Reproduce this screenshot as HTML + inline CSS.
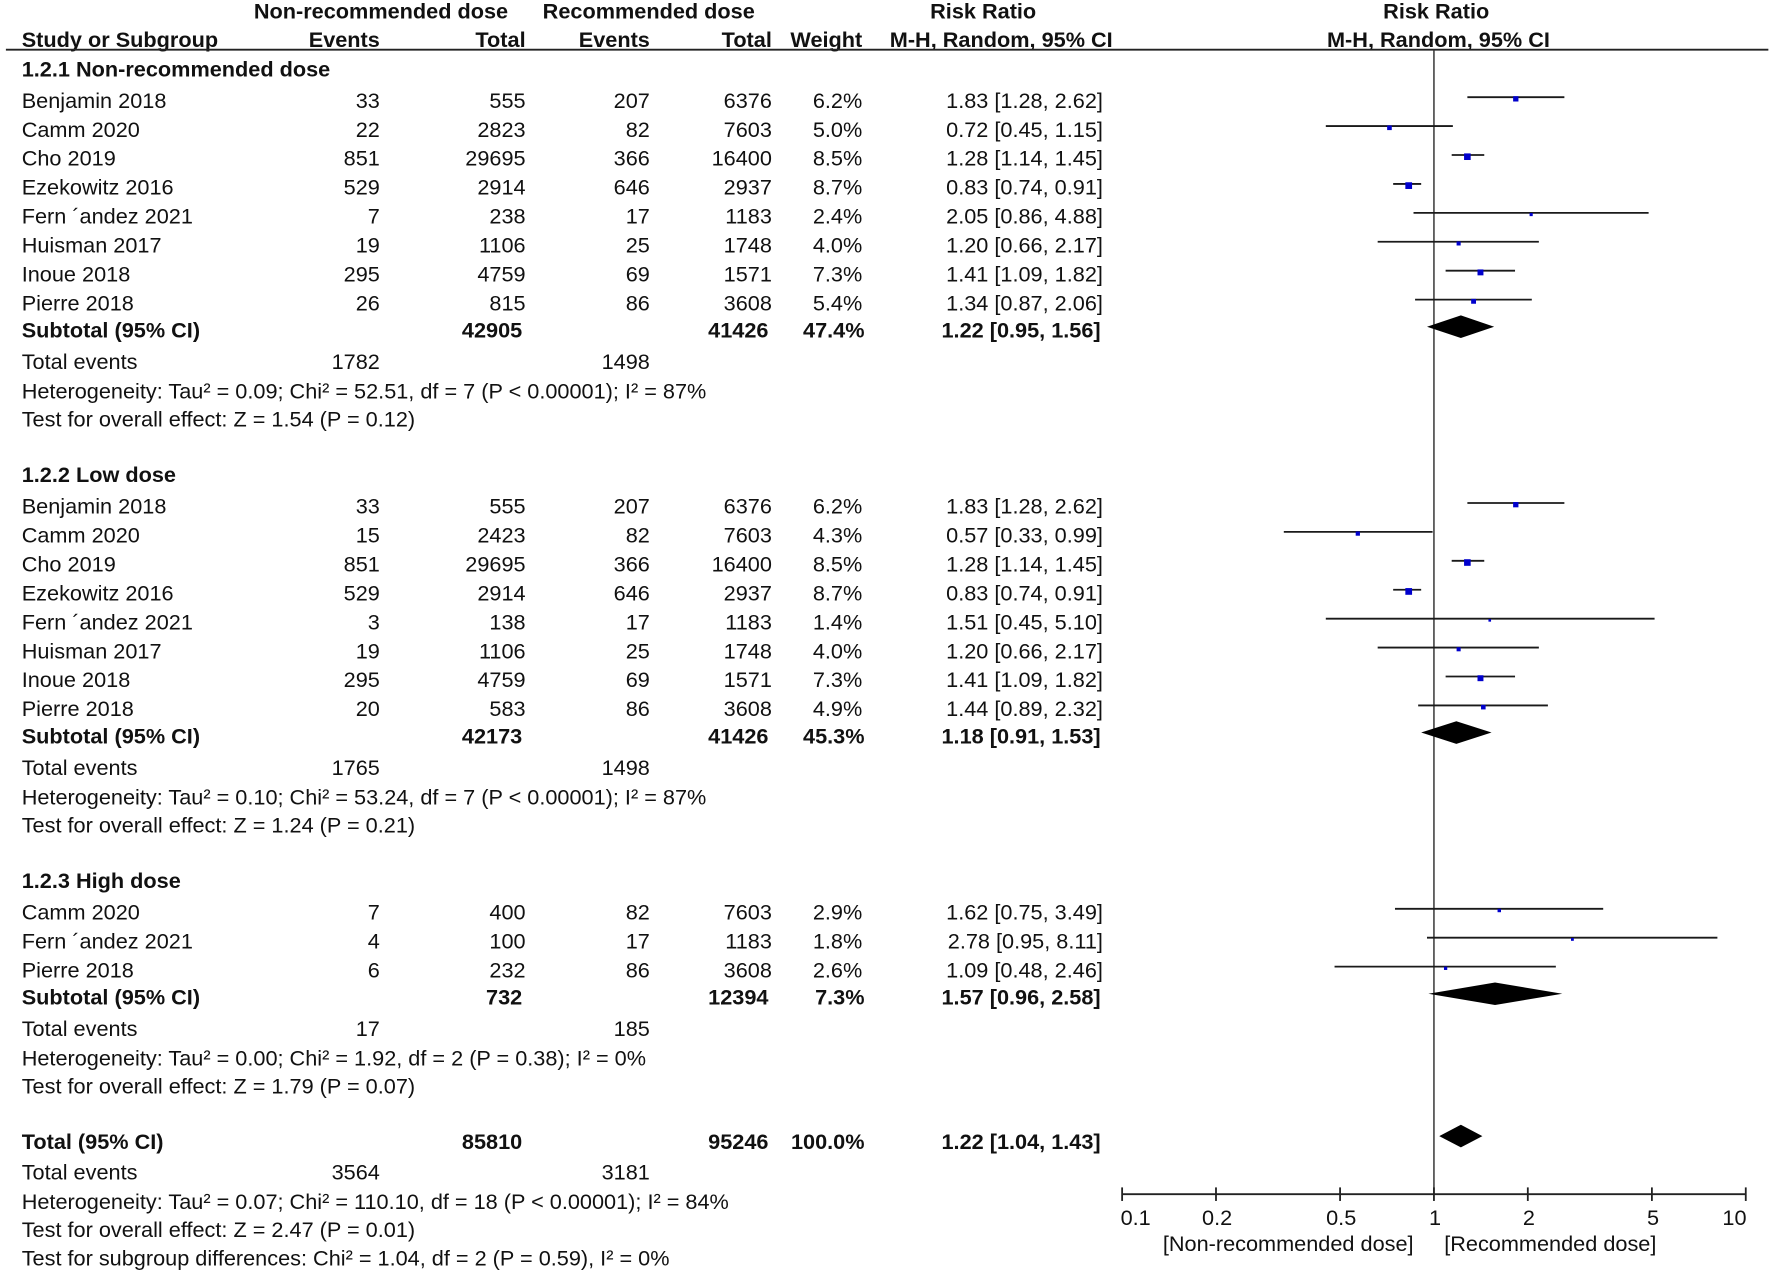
<!DOCTYPE html>
<html><head><meta charset="utf-8">
<style>
html,body{margin:0;padding:0;background:#fff;}
svg{display:block;}
text{font-family:"Liberation Sans",Arial,sans-serif;font-size:19.2px;fill:#111;}
.b{font-weight:bold;}
</style></head>
<body>
<svg id="chart" width="1772" height="1271" viewBox="0 0 1568 1125" xmlns="http://www.w3.org/2000/svg"></svg>
<script>
// ---- data ----
const groupTitles = ["1.2.1 Non-recommended dose","1.2.2 Low dose","1.2.3 High dose"];
const g1Names = ["Benjamin 2018","Camm 2020","Cho 2019","Ezekowitz 2016","Fern \u00b4andez 2021","Huisman 2017","Inoue 2018","Pierre 2018"];
const g1E1 = [33,22,851,529,7,19,295,26];
const g1T1 = [555,2823,29695,2914,238,1106,4759,815];
const g1E2 = [207,82,366,646,17,25,69,86];
const g1T2 = [6376,7603,16400,2937,1183,1748,1571,3608];
const g1W = [6.2,5.0,8.5,8.7,2.4,4.0,7.3,5.4];
const g1RR = [1.83,0.72,1.28,0.83,2.05,1.20,1.41,1.34];
const g1Lo = [1.28,0.45,1.14,0.74,0.86,0.66,1.09,0.87];
const g1Hi = [2.62,1.15,1.45,0.91,4.88,2.17,1.82,2.06];
const g2Names = ["Benjamin 2018","Camm 2020","Cho 2019","Ezekowitz 2016","Fern \u00b4andez 2021","Huisman 2017","Inoue 2018","Pierre 2018"];
const g2E1 = [33,15,851,529,3,19,295,20];
const g2T1 = [555,2423,29695,2914,138,1106,4759,583];
const g2E2 = [207,82,366,646,17,25,69,86];
const g2T2 = [6376,7603,16400,2937,1183,1748,1571,3608];
const g2W = [6.2,4.3,8.5,8.7,1.4,4.0,7.3,4.9];
const g2RR = [1.83,0.57,1.28,0.83,1.51,1.20,1.41,1.44];
const g2Lo = [1.28,0.33,1.14,0.74,0.45,0.66,1.09,0.89];
const g2Hi = [2.62,0.99,1.45,0.91,5.10,2.17,1.82,2.32];
const g3Names = ["Camm 2020","Fern \u00b4andez 2021","Pierre 2018"];
const g3E1 = [7,4,6];
const g3T1 = [400,100,232];
const g3E2 = [82,17,86];
const g3T2 = [7603,1183,3608];
const g3W = [2.9,1.8,2.6];
const g3RR = [1.62,2.78,1.09];
const g3Lo = [0.75,0.95,0.48];
const g3Hi = [3.49,8.11,2.46];
const subT1 = [42905,42173,732];
const subT2 = [41426,41426,12394];
const subW = ["47.4%","45.3%","7.3%"];
const subRR = [1.22,1.18,1.57];
const subLo = [0.95,0.91,0.96];
const subHi = [1.56,1.53,2.58];
const subEv1 = [1782,1765,17];
const subEv2 = [1498,1498,185];
const hetText = ["Heterogeneity: Tau\u00b2 = 0.09; Chi\u00b2 = 52.51, df = 7 (P < 0.00001); I\u00b2 = 87%",
 "Heterogeneity: Tau\u00b2 = 0.10; Chi\u00b2 = 53.24, df = 7 (P < 0.00001); I\u00b2 = 87%",
 "Heterogeneity: Tau\u00b2 = 0.00; Chi\u00b2 = 1.92, df = 2 (P = 0.38); I\u00b2 = 0%"];
const testText = ["Test for overall effect: Z = 1.54 (P = 0.12)","Test for overall effect: Z = 1.24 (P = 0.21)","Test for overall effect: Z = 1.79 (P = 0.07)"];
const totT1 = 85810, totT2 = 95246, totRR = 1.22, totLo = 1.04, totHi = 1.43;
const totEv1 = 3564, totEv2 = 3181;
const totHet = "Heterogeneity: Tau\u00b2 = 0.07; Chi\u00b2 = 110.10, df = 18 (P < 0.00001); I\u00b2 = 84%";
const totTest = "Test for overall effect: Z = 2.47 (P = 0.01)";
const subgroupTest = "Test for subgroup differences: Chi\u00b2 = 1.04, df = 2 (P = 0.59), I\u00b2 = 0%";
const axisTicks = [0.1,0.2,0.5,1,2,5,10];
const axisLabels = ["0.1","0.2","0.5","1","2","5","10"];

// ---- helpers ----
const svg = document.getElementById('chart');
const NS = "http://www.w3.org/2000/svg";
const X0 = 1269, DEC = 276;
function xs(v){ return X0 + DEC*Math.log10(v); }
function f2(v){ return v.toFixed(2); }
function mk(tag, attrs){ const e=document.createElementNS(NS,tag); for(const k in attrs) e.setAttribute(k,attrs[k]); svg.appendChild(e); return e; }
function txt(s,x,y,anchor,bold,name){
  const e=mk('text',{x:x,y:y+6.5,'text-anchor':anchor||'start'});
  if(bold) e.setAttribute('class','b');
  e.textContent=s;
  
  
  return e;
}
const C = {e1:336,t1:465,e2:575,t2:683,w:763,rr:976};

// headers
txt("Non-recommended dose",337,10,'middle',true,'header-nonrec-group');
txt("Recommended dose",574,10,'middle',true,'header-rec-group');
txt("Risk Ratio",870,10,'middle',true,'header-risk-ratio');
txt("Risk Ratio",1271,10,'middle',true,'header-risk-ratio-plot');
txt("Study or Subgroup",19,35,'start',true,'header-study');
txt("Events",C.e1,35,'end',true,'header-events-1');
txt("Total",C.t1,35,'end',true,'header-total-1');
txt("Events",C.e2,35,'end',true,'header-events-2');
txt("Total",C.t2,35,'end',true,'header-total-2');
txt("Weight",C.w,35,'end',true,'header-weight');
txt("M-H, Random, 95% CI",886,35,'middle',true,'header-method');
txt("M-H, Random, 95% CI",1273,35,'middle',true,'header-method-plot');
let hl=mk('line',{x1:5,y1:44,x2:1565,y2:44,stroke:'#222','stroke-width':1.6});



// reference line
let rl=mk('line',{x1:X0,y1:44,x2:X0,y2:1057,stroke:'#333','stroke-width':1.3});



function diamond(lo,rr,hi,y,name){
  const d=mk('polygon',{points:`${xs(lo)},${y} ${xs(rr)},${y-10} ${xs(hi)},${y} ${xs(rr)},${y+10}`,fill:'#000'});
  
  
}

const groups = [
 [g1Names,g1E1,g1T1,g1E2,g1T2,g1W,g1RR,g1Lo,g1Hi],
 [g2Names,g2E1,g2T1,g2E2,g2T2,g2W,g2RR,g2Lo,g2Hi],
 [g3Names,g3E1,g3T1,g3E2,g3T2,g3W,g3RR,g3Lo,g3Hi]];
let y = 61;
groups.forEach((g,gi)=>{
  txt(groupTitles[gi],19,y,'start',true,'subgroup-title');
  let ry = y+28;
  g[0].forEach((n,i)=>{
    const yy = ry + i*25.6;
    txt(n,19,yy,'start',false,'study-name');
    txt(String(g[1][i]),C.e1,yy,'end',false,'events-nonrec');
    txt(String(g[2][i]),C.t1,yy,'end',false,'total-nonrec');
    txt(String(g[3][i]),C.e2,yy,'end',false,'events-rec');
    txt(String(g[4][i]),C.t2,yy,'end',false,'total-rec');
    txt(g[5][i].toFixed(1)+"%",C.w,yy,'end',false,'weight');
    txt(`${f2(g[6][i])} [${f2(g[7][i])}, ${f2(g[8][i])}]`,C.rr,yy,'end',false,'risk-ratio-ci');
    const ci=mk('line',{x1:xs(g[7][i]),y1:yy-3,x2:xs(g[8][i]),y2:yy-3,stroke:'#1a1a1a','stroke-width':1.6});
    
    
    const s = 1.6 + g[5][i]*0.5;
    const sq=mk('rect',{x:xs(g[6][i])-s/2,y:yy-3-s/2+1.5,width:s,height:s,fill:'#0000cc'});
    
    
  });
  let sy = ry + (g[0].length-1)*25.6 + 24;
  txt("Subtotal (95% CI)",19,sy,'start',true,'subtotal-label');
  txt(String(subT1[gi]),462,sy,'end',true,'subtotal-total-nonrec');
  txt(String(subT2[gi]),680,sy,'end',true,'subtotal-total-rec');
  txt(subW[gi],765,sy,'end',true,'subtotal-weight');
  txt(`${f2(subRR[gi])} [${f2(subLo[gi])}, ${f2(subHi[gi])}]`,974,sy,'end',true,'subtotal-rr');
  diamond(subLo[gi],subRR[gi],subHi[gi],sy-3,'subtotal-diamond');
  txt("Total events",19,sy+28,'start',false,'total-events-label');
  txt(String(subEv1[gi]),C.e1,sy+28,'end',false,'total-events-nonrec');
  txt(String(subEv2[gi]),C.e2,sy+28,'end',false,'total-events-rec');
  txt(hetText[gi],19,sy+54,'start',false,'heterogeneity');
  txt(testText[gi],19,sy+79,'start',false,'overall-effect-test');
  y = sy + 128;
});
// overall
const ty = y - 0;
txt("Total (95% CI)",19,ty,'start',true,'total-label');
txt(String(totT1),462,ty,'end',true,'total-nonrec');
txt(String(totT2),680,ty,'end',true,'total-rec');
txt("100.0%",765,ty,'end',true,'total-weight');
txt(`${f2(totRR)} [${f2(totLo)}, ${f2(totHi)}]`,974,ty,'end',true,'total-rr');
diamond(totLo,totRR,totHi,ty-5,'total-diamond');
txt("Total events",19,ty+27,'start',false,'total-events-label');
txt(String(totEv1),C.e1,ty+27,'end',false,'total-events-nonrec');
txt(String(totEv2),C.e2,ty+27,'end',false,'total-events-rec');
txt(totHet,19,ty+53,'start',false,'total-heterogeneity');
txt(totTest,19,ty+78,'start',false,'total-overall-effect');
txt(subgroupTest,19,ty+103,'start',false,'subgroup-differences-test');

// axis
const ay = 1057;
let ax=mk('line',{x1:xs(0.1),y1:ay,x2:xs(10),y2:ay,stroke:'#222','stroke-width':1.6});


axisTicks.forEach((t,i)=>{
  const tk=mk('line',{x1:xs(t),y1:ay-6,x2:xs(t),y2:ay+6,stroke:'#222','stroke-width':1.6});
  
  
  const lx = i===0 ? xs(t)+12 : (i===axisTicks.length-1 ? xs(t)-10 : xs(t)+1);
  txt(axisLabels[i],lx,1078,'middle',false,'x-tick-label');
});
txt("[Non-recommended dose]",1140,1101,'middle',false,'favours-left-label');
txt("[Recommended dose]",1372,1101,'middle',false,'favours-right-label');
</script>
</body></html>
